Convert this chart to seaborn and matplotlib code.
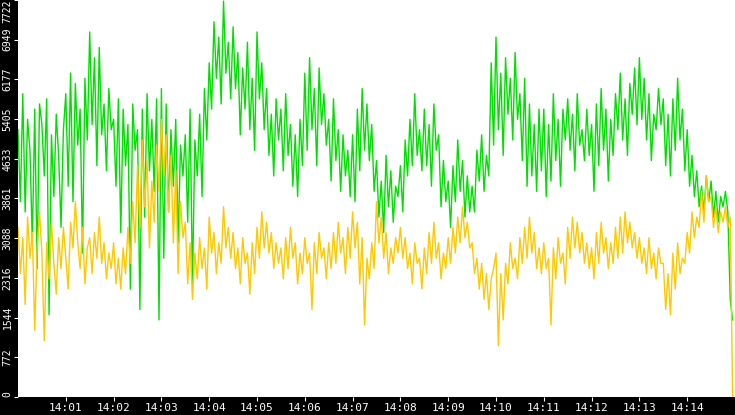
import numpy as np
import pandas as pd
import matplotlib
matplotlib.use("Agg")
import matplotlib.pyplot as plt
import seaborn as sns

# one sample every 3 seconds, 14:00 - 14:15
green = [
    5200,3800,5900,3600,5400,4800,3000,5600,2500,5700,
    5300,4300,5800,1600,5100,3900,5500,4700,3300,5200,
    5900,4100,6300,3800,6100,4900,5600,2800,6200,5000,
    7100,5300,6600,4500,6800,5100,5700,4400,6000,5200,
    5400,4100,5800,3200,5600,4500,5300,2100,5700,4800,
    5200,1700,5600,3500,5900,4400,5400,4000,5800,1500,
    6000,2700,5700,3600,5200,4100,5400,3000,4900,4300,
    5100,3400,5600,2200,5000,4300,5500,3900,6000,5000,
    6500,5600,7300,6200,7000,5700,7700,6300,6900,5800,
    7200,6000,6700,5100,6400,5600,6900,5200,6200,4800,
    7100,5800,6500,5200,6000,4700,5500,4300,5800,5000,
    5600,4400,5900,4700,5300,4100,5100,3900,5400,4500,
    6300,4800,6600,5200,6000,4500,6400,5300,5900,4900,
    5400,4200,5800,4600,5200,4000,5100,4300,4800,3900,
    5100,3800,5600,4400,6000,4800,5700,4600,5300,4000,
    4600,3500,4200,3200,4700,3700,4400,3400,4100,3900,
    4500,3600,5000,4300,5400,4500,5900,4700,5200,4400,
    5600,4500,5300,4100,5700,4800,5100,3700,4600,3800,
    4200,3300,4500,3800,5000,4000,4600,3500,4300,3600,
    4100,3600,4800,4200,5100,4000,4700,4300,6500,4900,
    7000,5200,6300,4700,6600,5500,6200,5000,6700,5400,
    5900,4600,6200,4100,5700,4300,5300,4000,5600,4400,
    5600,3900,5300,4200,5900,4600,5400,4100,5600,5000,
    5800,4800,5500,4400,5900,4900,5200,4600,5600,4700,
    5300,4000,5700,4500,6000,4800,5600,4200,5400,4700,
    5900,5200,6300,5000,5800,4700,6100,5500,6400,5300,
    6600,5400,6200,5000,5900,4600,5500,5200,6000,5300,
    5800,4500,5500,4300,5800,4800,6200,5000,5600,4400,
    5200,4100,4700,3900,4400,3700,4100,3600,4300,3800,
    4200,3500,4000,3400,3900,3700,4000,3600,1900,1500,
]
orange = [
    3300,2400,3100,1800,3500,2700,3200,1300,2900,3600,
    2800,1100,3000,2300,3400,2600,2000,3100,2500,3300,
    2700,2100,3400,2900,3800,3000,2500,3300,2200,2900,
    3100,2400,3200,2700,3500,2600,3000,2300,2800,2500,
    3000,2200,2700,2100,2900,2400,3300,2600,3800,3000,
    4500,3300,5000,3700,4600,2900,4200,3400,4900,4000,
    5400,4300,5100,3600,4700,3000,4400,2400,3800,3100,
    3400,2200,3000,1900,2800,2300,3100,2500,2900,2100,
    3500,2800,3200,2400,3000,2600,3700,2900,3300,2700,
    3200,2500,2900,2200,3100,2600,2800,2000,3000,2400,
    3300,2700,3600,2900,3400,2800,3200,2500,3000,2600,
    2900,2300,3100,2500,3300,2700,3000,2200,2800,2400,
    3100,2600,2800,1700,3000,2400,3200,2700,2900,2300,
    3000,2500,3200,2600,3400,2800,3100,2400,3300,2700,
    3600,2900,3400,2200,3100,1400,2700,2300,3000,2500,
    3800,3000,3500,2700,3200,2400,2900,2600,3100,2800,
    3300,2700,3100,2500,2800,2200,3000,2600,2700,2100,
    2900,2400,3200,2600,3400,2700,3000,2300,2800,2500,
    3100,2600,3300,2800,3500,3000,3700,3100,3400,2900,
    3000,2400,2700,2100,2600,1900,2400,1700,2300,2500,
    2800,1000,2400,1500,2600,2200,3000,2500,2700,2300,
    3100,2600,3300,2700,3500,2800,3200,2500,2900,2400,
    3000,2500,2700,1400,2900,2300,3100,2600,2800,2200,
    3300,2700,3500,2900,3400,2800,3200,2600,3000,2500,
    2900,2300,3200,2600,3400,2800,3100,2500,3000,2600,
    3300,2700,3500,2800,3600,3000,3400,2900,3200,2700,
    3100,2600,2900,2400,3100,2500,2800,2300,2900,2600,
    2600,1700,2400,1600,2800,2100,3000,2400,2700,2600,
    3200,2800,3600,3100,3500,3300,4000,3400,4300,3800,
    3900,3300,3700,3200,3600,3400,3700,3300,3500,0,
]
y_max = 7722
y_ticks = [0, 772, 1544, 2316, 3088, 3861, 4633, 5405, 6177, 6949, 7722]
x_ticks = list(range(1, 15))
x_labels = [f"14:{m:02d}" for m in x_ticks]

minutes = np.arange(len(green)) * 3 / 60
df = pd.DataFrame({"minute": minutes, "green": green, "orange": orange})

fig = plt.figure(figsize=(7.35, 4.15), dpi=100, facecolor="black")
ax = fig.add_axes([18 / 735, 18 / 415, 717 / 735, 397 / 415])
ax.set_facecolor("white")

sns.lineplot(data=df, x="minute", y="green", ax=ax, color="#00e000", lw=1.0)
sns.lineplot(data=df, x="minute", y="orange", ax=ax, color="#ffc800", lw=1.0)

ax.set_xlim(0, 15)
ax.set_ylim(0, y_max)
ax.set_xticks(x_ticks)
ax.set_xticklabels(x_labels)
ax.set_yticks(y_ticks)
ax.set_yticklabels([str(v) for v in y_ticks], rotation=90, va="center")
ax.get_yticklabels()[-1].set_va("top")
ax.get_yticklabels()[0].set_va("bottom")
ax.tick_params(colors="white", labelsize=7, length=3, pad=1)
ax.tick_params(axis="x", labelsize=8)
for lbl in ax.get_xticklabels() + ax.get_yticklabels():
    lbl.set_family("DejaVu Sans Mono")
ax.set_xlabel("")
ax.set_ylabel("")
for s in ax.spines.values():
    s.set_visible(False)

fig.savefig("out.png", dpi=100, facecolor="black")
